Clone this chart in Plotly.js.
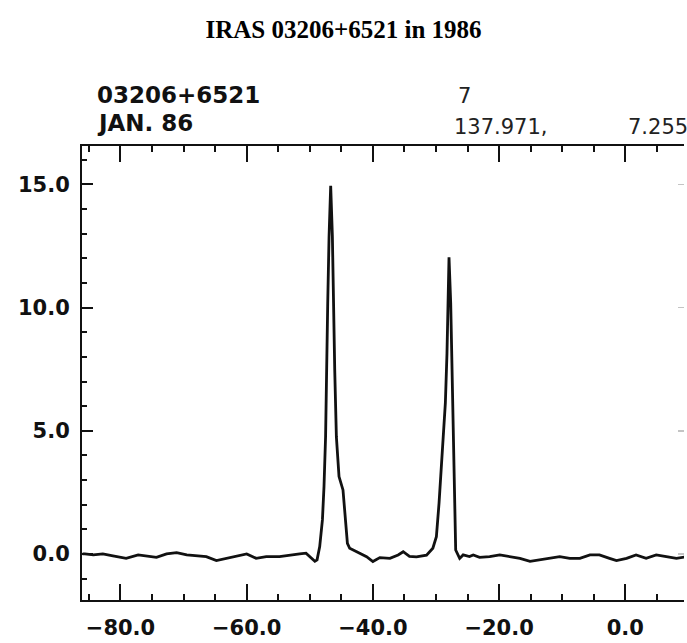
<!DOCTYPE html>
<html>
<head>
<meta charset="utf-8">
<script src="https://cdn.plot.ly/plotly-3.0.1.min.js"></script>
<style>html,body{margin:0;padding:0;background:#fff;}#chart{width:687px;height:643px;}</style>
</head>
<body>
<div id="chart"></div>
<script>
// LSR velocity (km/s)
const velocity = [-86.0,-85.65,-84.3,-82.8,-81.2,-79.1,-77.2,-75.9,-74.3,-72.7,-71.1,-69.5,-68.0,-66.4,-64.8,-63.2,-61.6,-60.0,-58.5,-56.9,-54.8,-53.2,-51.6,-50.6,-49.2,
  -48.85,-48.43,-48.0,-47.75,-47.5,-47.37,-47.16,-46.95,-46.69,-46.42,-46.26,-46.05,-45.79,-45.37,-44.74,-44.31,-44.04,-43.68,
  -42.6,-41.0,-40.0,-38.9,-37.3,-36.0,-35.2,-34.2,-33.1,-31.5,-30.5,
  -29.94,-29.52,-29.0,-28.52,-28.26,-28.1,-27.94,-27.67,-27.46,-27.25,-27.04,-26.88,-26.25,
  -25.7,-24.7,-24.1,-23.1,-21.5,-19.9,-18.3,-16.7,-15.1,-13.6,-12.0,-10.4,-8.8,-7.2,-5.6,-4.1,-2.5,-1.4,0.2,1.7,3.3,4.9,6.5,8.1,9.7];
// Flux density (Jy)
const flux = [0.0,0.0,-0.04,0.0,-0.08,-0.18,-0.04,-0.08,-0.14,0.0,0.05,-0.04,-0.08,-0.11,-0.27,-0.18,-0.11,0.0,-0.18,-0.11,-0.11,-0.04,0.0,0.03,-0.30,
  -0.24,0.30,1.38,2.73,4.76,7.47,10.18,12.88,14.94,12.88,10.18,7.47,4.76,3.14,2.60,1.38,0.43,0.23,
  0.09,-0.11,-0.31,-0.15,-0.18,-0.04,0.09,-0.10,-0.12,-0.05,0.23,
  0.70,2.06,4.09,6.12,8.15,10.18,12.04,10.18,7.47,4.76,2.06,0.16,-0.18,
  -0.04,-0.11,-0.04,-0.14,-0.11,-0.04,-0.11,-0.18,-0.30,-0.24,-0.18,-0.11,-0.18,-0.18,-0.04,-0.04,-0.18,-0.27,-0.18,-0.04,-0.18,-0.04,-0.11,-0.18,-0.11];

const xTickVals = [-80,-60,-40,-20,0];
const xTickText = ['\u221280.0','\u221260.0','\u221240.0','\u221220.0','0.0'];
const yTickVals = [0,5,10,15];
const yTickText = ['0.0','5.0','10.0','15.0'];

const headerLeft = ['03206+6521','JAN. 86'];
const headerRight = ['7','137.971,','7.255'];

const tickFont = {family:'DejaVu Sans', size:21, color:'#111', weight:'bold'};

const traces = [
  {x: velocity, y: flux, type:'scatter', mode:'lines',
   line:{color:'#111', width:2.8}, hoverinfo:'skip', showlegend:false},
  {x: [], y: [], type:'scatter', mode:'lines', yaxis:'y2', showlegend:false, hoverinfo:'skip'}
];

const layout = {
  width:687, height:643,
  margin:{l:82, r:3, t:146, b:43},
  paper_bgcolor:'#fff', plot_bgcolor:'#fff',
  showlegend:false,
  title:{text:'<b>IRAS 03206+6521 in 1986</b>', x:0.5, xref:'container', xanchor:'center',
         y:1-29/643, yref:'container', yanchor:'middle',
         font:{family:'Liberation Serif', size:25, color:'#000'}},
  xaxis:{range:[-86.1, 9.3], showgrid:false, zeroline:false,
         showline:true, linecolor:'#111', linewidth:2, mirror:'ticks',
         ticks:'inside', ticklen:16, tickwidth:2, tickcolor:'#111',
         tickvals:xTickVals, ticktext:xTickText, tickfont:tickFont, ticklabelstandoff:8,
         minor:{dtick:5, tick0:0, ticks:'inside', ticklen:6, tickwidth:2, tickcolor:'#111'}},
  yaxis:{range:[-1.87, 16.56], showgrid:false, zeroline:false,
         showline:true, linecolor:'#111', linewidth:2, mirror:false,
         ticks:'inside', ticklen:11, tickwidth:2, tickcolor:'#111',
         tickvals:yTickVals, ticktext:yTickText, tickfont:tickFont, ticklabelstandoff:6,
         minor:{dtick:1, tick0:0, ticks:'inside', ticklen:5, tickwidth:2, tickcolor:'#111'}},
  yaxis2:{range:[-1.87, 16.56], overlaying:'y', side:'right', showgrid:false, zeroline:false,
          showline:false, ticks:'inside', ticklen:6, tickwidth:1.5, tickcolor:'#c4c4c4',
          tickvals:yTickVals, showticklabels:false},
  annotations:[
    {text:headerLeft[0], xref:'paper', yref:'paper', x:(95-82)/602, y:(600-95)/454, xanchor:'left', yanchor:'middle',
     showarrow:false, font:{family:'DejaVu Sans', size:23, color:'#111', weight:'bold'}},
    {text:headerLeft[1], xref:'paper', yref:'paper', x:(95-82)/602, y:(600-122.5)/454, xanchor:'left', yanchor:'middle',
     showarrow:false, font:{family:'DejaVu Sans', size:23, color:'#111', weight:'bold'}},
    {text:headerRight[0], xref:'paper', yref:'paper', x:(456-82)/602, y:(600-96)/454, xanchor:'left', yanchor:'middle',
     showarrow:false, font:{family:'DejaVu Sans', size:21, color:'#222'}},
    {text:headerRight[1], xref:'paper', yref:'paper', x:(452-82)/602, y:(600-127)/454, xanchor:'left', yanchor:'middle',
     showarrow:false, font:{family:'DejaVu Sans', size:21, color:'#222'}},
    {text:headerRight[2], xref:'paper', yref:'paper', x:(626-82)/602, y:(600-127)/454, xanchor:'left', yanchor:'middle',
     showarrow:false, font:{family:'DejaVu Sans', size:21, color:'#222'}}
  ]
};

Plotly.newPlot('chart', traces, layout, {displayModeBar:false, staticPlot:true});
</script>
</body>
</html>
